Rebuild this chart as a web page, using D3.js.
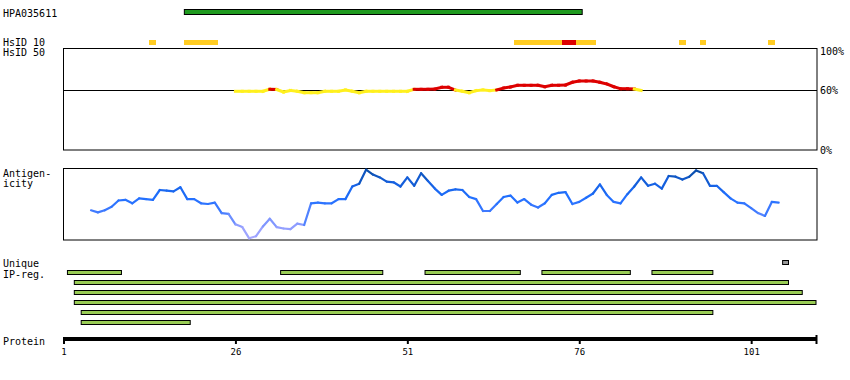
<!DOCTYPE html>
<html><head><meta charset="utf-8">
<script src="https://cdn.jsdelivr.net/npm/d3@7"></script>
<style>
html,body{margin:0;padding:0;background:#fff;}
svg{display:block;}
text{font-family:"DejaVu Sans Mono",monospace;font-size:10px;fill:#000;}
</style></head><body>
<div id="chart"></div>
<script>
// ---- data ----
const proteinLength = 110;
const tickLabels = [1, 26, 51, 76, 101];
const hpaName = "HPA035611";
const hpaRange = [19, 76];
const hsid10Starts = [14, 19, 67, 74, 76, 91, 94, 104];
const hsid10Ends   = [14, 23, 73, 75, 78, 91, 94, 104];
const hsid10Levels = ["mid","mid","mid","high","mid","mid","mid","mid"];
const hsid50Start = 26;
const hsid50Values = [58.7,58.7,58.7,58.7,58.7,60.8,60.5,58,59.5,58.7,
  57.3,57.3,57.3,58.7,58.7,58.7,60,58.7,57.3,58.7,
  58.7,58.7,58.7,58.7,58.7,58.7,60.7,60.7,60.7,61,
  62.7,62.7,60,58.7,57.3,59.3,60,59.3,60,62,
  63,64.7,64.7,64.7,64.7,63.3,64.7,64.7,65,67.7,
  69,69,69,67.7,66,63.3,61.3,61.3,61,59.5];
const hsid50Ticks = [100, 60, 0];
const antigenStart = 5;
const antigenValues = [41,38,41,46,55,56,51,58,57,56,
  70,69,68,74,57,57,51,50,52,37,
  36,21,17,1,4,18,29,17,15,14,
  22,20,51,52,51,51,57,57,75,79,
  99,92,88,82,81,75,88,76,94,83,
  72,63,69,71,70,60,57,40,40,50,
  60,62,52,57,49,45,51,63,66,67,
  50,53,59,65,78,63,53,51,64,75,
  88,76,79,72,90,89,85,89,98,94,
  76,76,67,58,52,51,44,37,33,53,52];
const uniqueStarts = [106];
const uniqueEnds   = [106];
const ipRows   = [0,0,0,0,0,1,2,3,4,5];
const ipStarts = [2,33,54,71,87,3,3,3,4,4];
const ipEnds   = [9,47,67,83,95,106,108,110,95,19];

// ---- drawing ----
const W = 850, H = 380;
const svg = d3.select("#chart").append("svg").attr("width", W).attr("height", H);
svg.append("rect").attr("width", W).attr("height", H).attr("fill", "#fff");

const x = d3.scaleLinear().domain([1, 110.5]).range([63.5, 816.5]);

// labels
const labels = [[hpaName,3,16.5],["HsID 10",3,46],["HsID 50",3,56],["Antigen-",3,176.5],["icity",3,187],["Unique",3,267],["IP-reg.",3,278],["Protein",3,344.5]];
svg.selectAll("text.lab").data(labels).join("text").attr("class","lab")
  .attr("x", d=>d[1]).attr("y", d=>d[2]).text(d=>d[0]);

// HPA bar
svg.append("rect").attr("x", x(hpaRange[0]-0.5)+0.5).attr("y", 9.5)
  .attr("width", x(hpaRange[1]+0.5)-x(hpaRange[0]-0.5)-1).attr("height", 5)
  .attr("fill", "#1f9a1f").attr("stroke", "#000").attr("stroke-width", 1);

// HsID 10
const hsid10 = hsid10Starts.map((s,i)=>({s, e:hsid10Ends[i], l:hsid10Levels[i]}));
svg.selectAll("rect.h10").data(hsid10).join("rect").attr("class","h10")
  .attr("x", d=>x(d.s-0.5)).attr("width", d=>x(d.e+0.5)-x(d.s-0.5))
  .attr("y", 40).attr("height", 5)
  .attr("fill", d=>d.l==="high" ? "#dd0000" : "#ffcc22")
  .attr("shape-rendering","crispEdges");

// HsID 50 panel
const y50 = d3.scaleLinear().domain([0,100]).range([150, 50]);
svg.append("rect").attr("x", 63.5).attr("y", 48.5).attr("width", 817-63.5).attr("height", 150-48.5)
  .attr("fill","none").attr("stroke","#000").attr("stroke-width",1);
svg.append("line").attr("x1",63.5).attr("x2",817).attr("y1",y50(60)+0.5).attr("y2",y50(60)+0.5)
  .attr("stroke","#000").attr("stroke-width",1);
svg.selectAll("text.p50").data(hsid50Ticks).join("text").attr("class","p50")
  .attr("x", 820).attr("y", d=> d===100 ? 55 : y50(d)+4).text(d=>d+"%");

const h50pts = hsid50Values.map((v,i)=>({r:hsid50Start+i, v}));
svg.selectAll("line.h50").data(d3.pairs(h50pts)).join("line").attr("class","h50")
  .attr("x1", d=>x(d[0].r)).attr("x2", d=>x(d[1].r))
  .attr("y1", d=>y50(d[0].v)).attr("y2", d=>y50(d[1].v))
  .attr("stroke", d=> (d[0].v+d[1].v)/2 > 60.3 ? "#dd0000" : "#fff01e")
  .attr("stroke-width", 3).attr("stroke-linecap","square");

// Antigenicity panel
svg.append("rect").attr("x", 63.5).attr("y", 168.5).attr("width", 817-63.5).attr("height", 240-168.5)
  .attr("fill","none").attr("stroke","#000").attr("stroke-width",1);
const yA = d3.scaleLinear().domain([0,100]).range([239, 169]);
const colA = d3.scaleLinear().domain([0,20,40,60,80,100])
  .range(["#aaaaff","#8c9cff","#3f7aff","#1f6fff","#1560e0","#084a9e"]);
const aPts = antigenValues.map((v,i)=>({r:antigenStart+i, v}));
svg.selectAll("line.ag").data(d3.pairs(aPts)).join("line").attr("class","ag")
  .attr("x1", d=>x(d[0].r)).attr("x2", d=>x(d[1].r))
  .attr("y1", d=>yA(d[0].v)).attr("y2", d=>yA(d[1].v))
  .attr("stroke", d=>colA((d[0].v+d[1].v)/2))
  .attr("stroke-width", 2.2).attr("stroke-linecap","round");

// Unique region
const uniq = uniqueStarts.map((s,i)=>({s, e:uniqueEnds[i]}));
svg.selectAll("rect.uq").data(uniq).join("rect").attr("class","uq")
  .attr("x", d=>x(d.s-0.5)+0.5).attr("width", d=>x(d.e+0.5)-x(d.s-0.5)-1)
  .attr("y", 260.5).attr("height", 4)
  .attr("fill","#999999").attr("stroke","#000").attr("stroke-width",1);

// IP-reg bars
const ip = ipStarts.map((s,i)=>({s, e:ipEnds[i], row:ipRows[i]}));
svg.selectAll("rect.ip").data(ip).join("rect").attr("class","ip")
  .attr("x", d=>x(d.s-0.5)+0.5).attr("width", d=>x(d.e+0.5)-x(d.s-0.5)-1)
  .attr("y", d=>270.5+d.row*10).attr("height", 4)
  .attr("fill","#99cc55").attr("stroke","#000").attr("stroke-width",1);

// Protein axis
const axisG = svg.append("g").attr("transform","translate(0,337)");
axisG.append("rect").attr("x", 63).attr("y", 0).attr("width", 817-63).attr("height", 4).attr("fill","#000");
const axis = d3.axisBottom(x).tickValues(tickLabels).tickSize(7).tickSizeOuter(0).tickFormat(d3.format("d"));
const ag = axisG.append("g").call(axis);
ag.select(".domain").remove();
ag.selectAll(".tick line").attr("stroke","#000").attr("stroke-width",2);
ag.selectAll(".tick text").attr("y", 12).attr("dy","0.71em")
  .style("font-family","'DejaVu Sans Mono',monospace").style("font-size","9px");
axisG.append("rect").attr("x", x(proteinLength+0.5)-1).attr("y",-2).attr("width",2).attr("height",9).attr("fill","#000");
</script>
</body></html>
